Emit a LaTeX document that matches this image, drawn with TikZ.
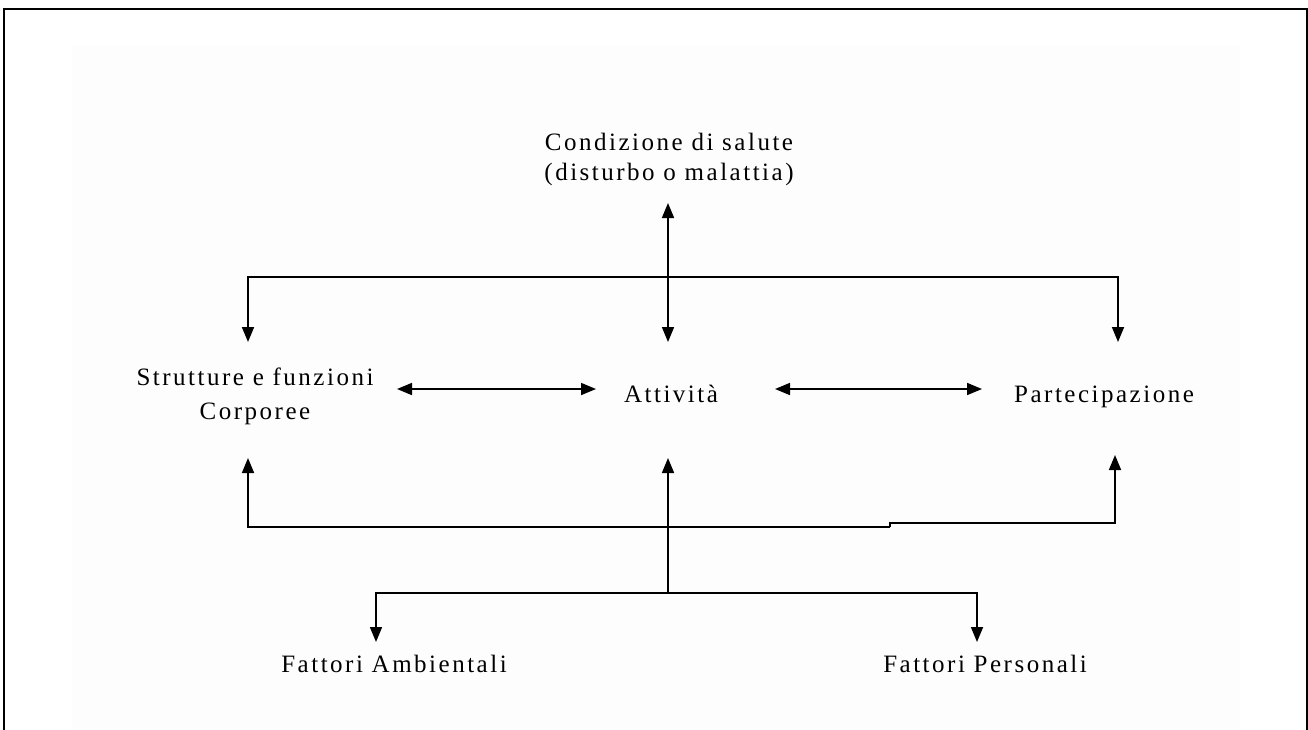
\documentclass[tikz,border=0pt]{standalone}
\usepackage{fontspec}
\setmainfont{Liberation Serif}[LetterSpace=10]
\usetikzlibrary{arrows.meta}
\definecolor{bgpanel}{HTML}{FCFDFC}
\tikzset{
  lbl/.style={inner sep=0pt, font=\fontsize{25}{30}\selectfont},
  conn/.style={line width=1.7pt, black},
  tip/.style={-{Triangle[length=15pt,width=12pt]}},
  tips/.style={{Triangle[length=15pt,width=12pt]}-{Triangle[length=15pt,width=12pt]}},
}
\begin{document}
\begin{tikzpicture}[x=1pt,y=-1pt]
\useasboundingbox (0,0) rectangle (1308,729);
\fill[white] (0,0) rectangle (1308,729);
\fill[bgpanel] (72,46) rectangle (1240,729);
\draw[line width=2.2pt] (4,740) -- (4,9) -- (1307,9) -- (1307,740);

% text nodes
\node[lbl, align=center] (cond) at (669,159) {Condizione di salute\\(disturbo o malattia)};
\node[lbl, align=center, font=\fontsize{25}{34}\selectfont] (strut) at (255,396) {Strutture e funzioni\\Corporee};
\node[lbl, anchor=base] (att) at (671,402) {Attività};
\node[lbl, anchor=base] (part) at (1104,402) {Partecipazione};
\node[lbl, anchor=base] (amb) at (394,672) {Fattori Ambientali};
\node[lbl, anchor=base] (pers) at (985,672) {Fattori Personali};

% coordinates
\coordinate (ctop) at (668,203);
\coordinate (cbot) at (668,342);
\coordinate (hl) at (248,277);
\coordinate (hr) at (1118,277);
\coordinate (sl) at (248,342);
\coordinate (sr) at (1118,342);
\coordinate (a1l) at (397,389);
\coordinate (a1r) at (596,389);
\coordinate (a2l) at (775,389);
\coordinate (a2r) at (982,389);
\coordinate (ul) at (248,458);
\coordinate (ulb) at (248,527);
\coordinate (ur) at (1115,455);
\coordinate (urb) at (1115,523);
\coordinate (step) at (890,527);
\coordinate (stepb) at (890,523);
\coordinate (um) at (668,458);
\coordinate (bm) at (668,593);
\coordinate (bl) at (376,593);
\coordinate (br) at (977,593);
\coordinate (tl) at (376,642);
\coordinate (tr) at (977,642);

% top connectors
\draw[conn, tips] (ctop) -- (cbot);
\draw[conn, tip] (hr) -- (hl) -- (sl);
\draw[conn, tip] (hl) -- (hr) -- (sr);
% middle
\draw[conn, tips] (a1l) -- (a1r);
\draw[conn, tips] (a2l) -- (a2r);
% lower
\draw[conn, tip] (step) -- (ulb) -- (ul);
\draw[conn, tip] (step) -- (stepb) -- (urb) -- (ur);
\draw[conn, tip] (bm) -- (um);
\draw[conn, tip] (bm) -- (bl) -- (tl);
\draw[conn, tip] (bm) -- (br) -- (tr);
\end{tikzpicture}
\end{document}
